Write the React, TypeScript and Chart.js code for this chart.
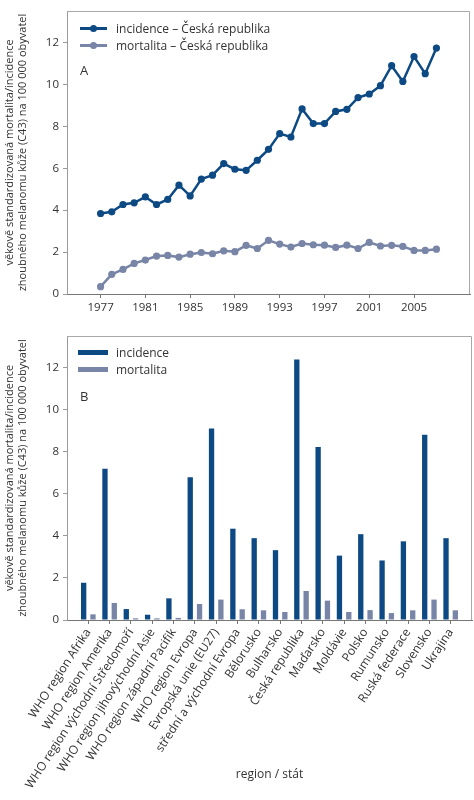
import { useEffect, useRef } from "react"
import { Chart, registerables } from "chart.js"

Chart.register(...registerables)

const years = [
    1977, 1978, 1979, 1980, 1981, 1982, 1983, 1984, 1985, 1986, 1987,
    1988, 1989, 1990, 1991, 1992, 1993, 1994, 1995, 1996, 1997, 1998,
    1999, 2000, 2001, 2002, 2003, 2004, 2005, 2006, 2007
]
const incidenceCZ = [
    3.84, 3.92, 4.27, 4.35, 4.63, 4.27, 4.51, 5.19, 4.68, 5.48, 5.67,
    6.22, 5.95, 5.9, 6.38, 6.9, 7.65, 7.49, 8.83, 8.13, 8.13, 8.71,
    8.81, 9.37, 9.54, 9.94, 10.89, 10.14, 11.33, 10.51, 11.73
]
const mortalityCZ = [
    0.35, 0.94, 1.17, 1.46, 1.62, 1.81, 1.84, 1.76, 1.9, 1.98, 1.92,
    2.06, 2.02, 2.32, 2.17, 2.56, 2.38, 2.24, 2.41, 2.35, 2.33, 2.22,
    2.33, 2.17, 2.46, 2.29, 2.32, 2.27, 2.08, 2.08, 2.14
]
const yearTicks = [1977, 1981, 1985, 1989, 1993, 1997, 2001, 2005]
const valueTicks = [0, 2, 4, 6, 8, 10, 12]

const regions = [
    "WHO region Afrika",
    "WHO region Amerika",
    "WHO region východní Středomoří",
    "WHO region jihovýchodní Asie",
    "WHO region západní Pacifik",
    "WHO region Evropa",
    "Evropská unie (EU27)",
    "střední a východní Evropa",
    "Bělorusko",
    "Bulharsko",
    "Česká republika",
    "Maďarsko",
    "Moldávie",
    "Polsko",
    "Rumunsko",
    "Ruská federace",
    "Slovensko",
    "Ukrajina"
]
const incidence = [
    1.77, 7.19, 0.52, 0.25, 1.03, 6.79, 9.1, 4.34, 3.89, 3.32, 12.38,
    8.22, 3.06, 4.08, 2.83, 3.74, 8.8, 3.89
]
const mortality = [
    0.27, 0.81, 0.08, 0.08, 0.1, 0.76, 0.97, 0.51, 0.46, 0.38, 1.38,
    0.92, 0.38, 0.47, 0.33, 0.46, 0.97, 0.46
]

const yTitle = [
    "věkově standardizovaná mortalita/incidence",
    "zhoubného melanomu kůže (C43) na 100 000 obyvatel"
]

const NAVY = "#0d4a84"
const GREYBLUE = "#7885a6"
const TEXT = "#333333"
const FONT = "'Open Sans', sans-serif"

Chart.defaults.font.family = FONT
Chart.defaults.color = TEXT

// top and right edge of the plot box
const framePlugin = {
    id: "frame",
    afterDraw(chart: Chart) {
        const { ctx, chartArea: a } = chart
        ctx.save()
        ctx.strokeStyle = "#a8a8a8"
        ctx.lineWidth = 1
        ctx.beginPath()
        ctx.moveTo(a.left, a.top + 0.5)
        ctx.lineTo(a.right - 0.5, a.top + 0.5)
        ctx.lineTo(a.right - 0.5, a.bottom)
        ctx.stroke()
        ctx.restore()
    }
}

function yScale() {
    return {
        min: 0,
        max: 13.5,
        afterFit: (s: any) => { s.width = 67 },
        afterBuildTicks: (s: any) => { s.ticks = valueTicks.map((v) => ({ value: v })) },
        border: { color: "#9a9a9a" },
        grid: { drawOnChartArea: false, tickLength: 4, color: "#9a9a9a" },
        ticks: { padding: 4, font: { size: 11.5 }, color: TEXT },
        title: {
            display: true,
            text: yTitle,
            font: { size: 11, lineHeight: 1.2 },
            padding: { top: 3.4, bottom: 0 },
            color: TEXT
        }
    }
}

function LineChart() {
    const canvasRef = useRef<HTMLCanvasElement>(null)

    useEffect(() => {
        const chart = new Chart(canvasRef.current, {
            type: "line",
            data: {
                datasets: [
                    {
                        label: "incidence – Česká republika",
                        data: years.map((y, i) => ({ x: y, y: incidenceCZ[i] })),
                        borderColor: NAVY,
                        backgroundColor: NAVY,
                        borderWidth: 2.5,
                        pointRadius: 3.6,
                        pointBorderWidth: 0,
                        tension: 0
                    },
                    {
                        label: "mortalita – Česká republika",
                        data: years.map((y, i) => ({ x: y, y: mortalityCZ[i] })),
                        borderColor: GREYBLUE,
                        backgroundColor: GREYBLUE,
                        borderWidth: 2.5,
                        pointRadius: 3.6,
                        pointBorderWidth: 0,
                        tension: 0
                    }
                ]
            },
            options: {
                animation: false,
                responsive: true,
                maintainAspectRatio: false,
                layout: { padding: { top: 11, right: 2, left: 0, bottom: 0 } },
                plugins: { legend: { display: false }, tooltip: { enabled: false } },
                scales: {
                    x: {
                        type: "linear",
                        min: 1974,
                        max: 2010,
                        afterFit: (s: any) => { s.height = 26 },
                        afterBuildTicks: (s: any) => { s.ticks = yearTicks.map((v) => ({ value: v })) },
                        border: { color: "#777777" },
                        grid: { drawOnChartArea: false, tickLength: 4, color: "#777777" },
                        ticks: {
                            padding: 3,
                            font: { size: 11.5 },
                            color: TEXT,
                            callback: (v: any) => String(v)
                        }
                    },
                    y: yScale() as any
                }
            },
            plugins: [framePlugin]
        })
        return () => chart.destroy()
    }, [])

    return (
        <div style={{ position: "relative", width: 474, height: 320 }}>
            <canvas ref={canvasRef}></canvas>
            <div style={{ position: "absolute", left: 80, top: 20, fontSize: 12, color: TEXT, lineHeight: "17px" }}>
                {[
                    { c: NAVY, t: "incidence – Česká republika" },
                    { c: GREYBLUE, t: "mortalita – Česká republika" }
                ].map((l) => (
                    <div key={l.t} style={{ display: "flex", alignItems: "center", height: 17 }}>
                        <div style={{ position: "relative", width: 27, height: 3, background: l.c }}>
                            <div style={{ position: "absolute", left: 10, top: -2, width: 7, height: 7, borderRadius: "50%", background: l.c }}></div>
                        </div>
                        <span style={{ marginLeft: 9 }}>{l.t}</span>
                    </div>
                ))}
            </div>
            <div style={{ position: "absolute", left: 80, top: 61, fontSize: 13, color: TEXT }}>A</div>
        </div>
    )
}

function BarChart() {
    const canvasRef = useRef<HTMLCanvasElement>(null)

    useEffect(() => {
        const chart = new Chart(canvasRef.current, {
            type: "bar",
            data: {
                datasets: [
                    {
                        label: "incidence",
                        data: incidence.map((v, i) => ({ x: i, y: v })),
                        backgroundColor: NAVY,
                        categoryPercentage: 0.875,
                        barPercentage: 0.57
                    },
                    {
                        label: "mortalita",
                        data: mortality.map((v, i) => ({ x: i, y: v })),
                        backgroundColor: GREYBLUE,
                        categoryPercentage: 0.875,
                        barPercentage: 0.57
                    }
                ]
            },
            options: {
                animation: false,
                responsive: true,
                maintainAspectRatio: false,
                layout: { padding: { top: 16, right: 2, left: 0, bottom: 0 } },
                plugins: { legend: { display: false }, tooltip: { enabled: false } },
                scales: {
                    x: {
                        type: "linear",
                        min: -1,
                        max: 18,
                        offset: false,
                        afterFit: (s: any) => { s.height = 180 },
                        afterBuildTicks: (s: any) => { s.ticks = regions.map((_, i) => ({ value: i })) },
                        border: { color: "#777777" },
                        grid: { offset: false, drawOnChartArea: false, tickLength: 4, color: "#777777" },
                        ticks: {
                            autoSkip: false,
                            minRotation: 57,
                            maxRotation: 57,
                            padding: 2,
                            font: { size: 12 },
                            color: TEXT,
                            callback: (v: any) => regions[v]
                        },
                        title: {
                            display: true,
                            text: "region / stát",
                            font: { size: 12 },
                            padding: { top: 0, bottom: 18 },
                            color: TEXT
                        }
                    } as any,
                    y: yScale() as any
                }
            },
            plugins: [framePlugin]
        })
        return () => chart.destroy()
    }, [])

    return (
        <div style={{ position: "relative", width: 474, height: 480 }}>
            <canvas ref={canvasRef}></canvas>
            <div style={{ position: "absolute", left: 78, top: 24, fontSize: 12, color: TEXT }}>
                {[
                    { c: NAVY, t: "incidence" },
                    { c: GREYBLUE, t: "mortalita" }
                ].map((l) => (
                    <div key={l.t} style={{ display: "flex", alignItems: "center", height: 17 }}>
                        <div style={{ width: 30, height: 5, background: l.c }}></div>
                        <span style={{ marginLeft: 8 }}>{l.t}</span>
                    </div>
                ))}
            </div>
            <div style={{ position: "absolute", left: 80, top: 67, fontSize: 13, color: TEXT }}>B</div>
        </div>
    )
}

export default function App() {
    useEffect(() => {
        document.body.style.margin = "0"
    }, [])

    return (
        <div style={{ width: 474, height: 800, fontFamily: FONT, background: "#fff" }}>
            <LineChart />
            <BarChart />
        </div>
    )
}
